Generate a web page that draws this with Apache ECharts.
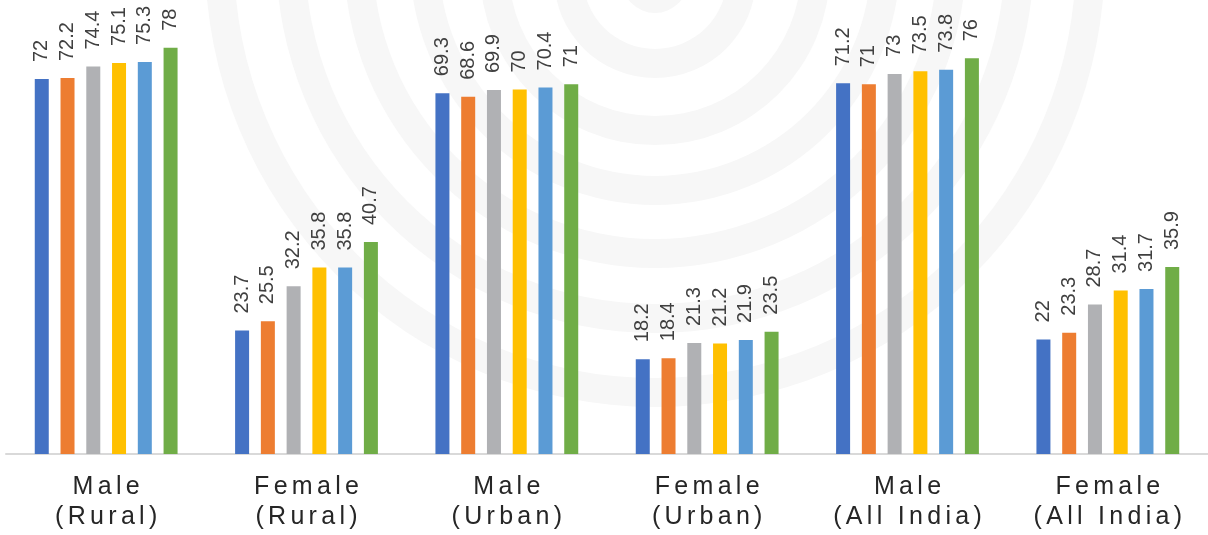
<!DOCTYPE html>
<html>
<head>
<meta charset="utf-8">
<script src="https://cdn.jsdelivr.net/npm/echarts@6/dist/echarts.min.js"></script>
<style>
  html, body { margin: 0; padding: 0; background: #ffffff; }
  #chart { width: 1208px; height: 535px; }
</style>
</head>
<body>
<div id="chart"></div>
<script>
// ---- Data ----
const categories = ['Male\n(Rural)', 'Female\n(Rural)', 'Male\n(Urban)', 'Female\n(Urban)', 'Male\n(All India)', 'Female\n(All India)'];
const seriesNames = ['2017-18', '2018-19', '2019-20', '2020-21', '2021-22', '2022-23'];
const s1 = [72, 23.7, 69.3, 18.2, 71.2, 22];
const s2 = [72.2, 25.5, 68.6, 18.4, 71, 23.3];
const s3 = [74.4, 32.2, 69.9, 21.3, 73, 28.7];
const s4 = [75.1, 35.8, 70, 21.2, 73.5, 31.4];
const s5 = [75.3, 35.8, 70.4, 21.9, 73.8, 31.7];
const s6 = [78, 40.7, 71, 23.5, 76, 35.9];

// ---- Styling ----
const colors = ['#4472c4', '#ed7d31', '#b0b1b4', '#ffc000', '#5b9bd5', '#70ad47'];
const seriesData = [s1, s2, s3, s4, s5, s6];

// watermark rings (decoration): [centerYOffset, outerR]
const rings = [[43, 450], [46, 379], [43, 311], [40, 245], [30, 175], [23, 101], [20, 33]];
const ringCx = 655, ringW = 29;

const chart = echarts.init(document.getElementById('chart'), null, { renderer: 'canvas' });

function spaced(v) {
  return v.split('\n').map(line =>
    line.split('').map(ch => '{c|' + ch + '}').join('')
  ).join('\n');
}

const option = {
  animation: false,
  backgroundColor: '#ffffff',
  color: colors,
  graphic: rings.map(r => ({
    type: 'ring',
    silent: true,
    z: -10,
    shape: { cx: ringCx, cy: -r[0], r: r[1], r0: Math.max(r[1] - ringW, 0) },
    style: { fill: '#f7f7f7' }
  })),
  grid: { left: 6, width: 1211, top: 1, height: 453, containLabel: false },
  xAxis: {
    type: 'category',
    data: categories,
    axisTick: { show: false },
    axisLine: { lineStyle: { color: '#d9d9d9', width: 2 } },
    axisLabel: {
      interval: 0,
      margin: 18,
      lineHeight: 30,
      formatter: spaced,
      rich: {
        c: {
          fontSize: 25,
          fontFamily: '"Liberation Sans", Arial, sans-serif',
          color: '#262626',
          lineHeight: 30,
          padding: [0, 2.15, 0, 2.15]
        }
      }
    }
  },
  yAxis: {
    type: 'value',
    min: 0,
    max: 87,
    show: false,
    splitLine: { show: false }
  },
  series: seriesNames.map((name, i) => ({
    name: name,
    type: 'bar',
    data: seriesData[i],
    barWidth: 14,
    barGap: '84%',
    itemStyle: { color: colors[i] },
    label: {
      show: true,
      position: 'top',
      rotate: 90,
      align: 'left',
      verticalAlign: 'middle',
      distance: 17,
      fontSize: 20,
      fontFamily: '"Liberation Sans", Arial, sans-serif',
      color: '#404040'
    }
  }))
};

chart.setOption(option);
</script>
</body>
</html>
